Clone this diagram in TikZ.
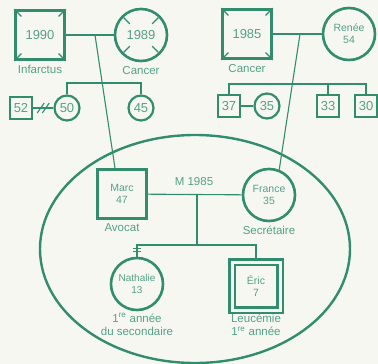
\documentclass[tikz,border=0pt]{standalone}
\usepackage{fontspec}
\setmainfont{Liberation Sans}
\usetikzlibrary{positioning, calc}

\definecolor{gline}{RGB}{50,140,110}
\definecolor{gtext}{RGB}{85,160,135}
\definecolor{paper}{RGB}{247,247,242}

\begin{document}
\begin{tikzpicture}[
    x=1pt, y=-1pt,
    node distance=2pt,
    male/.style={
        draw=gline,
        line width=2.6pt,
        rectangle,
        minimum size=49pt,
        inner sep=0pt,
        text=gtext,
        align=center,
        font=\fontsize{10.5}{12}\selectfont
    },
    female/.style={male, circle, minimum size=52pt},
    smale/.style={male, minimum size=22pt, line width=2.2pt, font=\fontsize{13}{13}\selectfont},
    sfemale/.style={smale, circle, minimum size=25pt},
    lbl/.style={text=gtext, inner sep=1pt, align=center, font=\fontsize{11.5}{13}\selectfont},
    link/.style={draw=gline, line width=1.1pt},
    tick/.style={draw=gline, line width=1.3pt}
]

\useasboundingbox (0,0) rectangle (378,364);
\fill[paper] (0,0) rectangle (378,364);

% grandparents
\node (pgf) [male, font=\fontsize{13}{13}\selectfont] at (40,35) {1990};
\node (pgm) [female, font=\fontsize{13}{13}\selectfont] at (141,35) {1989};
\node (mgf) [male, font=\fontsize{13}{13}\selectfont] at (247,34) {1985};
\node (mgm) [female] at (349,34) {Renée\\54};

\node [lbl, below=3pt of pgf] {Infarctus};
\node [lbl, below=3pt of pgm] {Cancer};
\node [lbl, below=3pt of mgf] {Cancer};

% deceased marks
\foreach \c in {pgf, mgf}
    \foreach \a in {north west, north east, south west, south east}
        \draw[tick] (\c.\a) -- ($(\c.\a)!0.28!(\c.center)$);
\foreach \a in {45, 135, 225, 315}
    \draw[tick] ($(pgm.center)!0.58!(pgm.\a)$) -- ($(pgm.center)!0.9!(pgm.\a)$);

% uncles and aunts
\node (s52) [smale] at (21,108) {52};
\node (c50) [sfemale] at (67,108) {50};
\node (c45) [sfemale] at (141,108) {45};
\node (s37) [smale] at (229,106) {37};
\node (c35) [sfemale] at (267,106) {35};
\node (s33) [smale] at (328,106) {33};
\node (s30) [smale] at (366,106) {30};

% family
\node (marc) [male] at (122,194) {Marc\\47};
\node (france) [female] at (269,195) {France\\35};
\node (nath) [female, font=\fontsize{10}{12}\selectfont] at (137,284) {Nathalie\\13};
\node (eric) [male, double=paper, double distance=3pt, line width=2.4pt, minimum size=48pt] at (256,286) {Éric\\7};

\node [lbl, below=3pt of marc] {Avocat};
\node [lbl, below=3pt of france] {Secrétaire};
\node [lbl, below=1pt of nath] {1\textsuperscript{re} année\\du secondaire};
\node [lbl, below=2pt of eric] {Leucémie\\1\textsuperscript{re} année};
\node (mdate) [lbl] at (194,182) {M 1985};

\coordinate (lmar) at (95,35);
\coordinate (rmar) at (300,34);
\coordinate (lsib) at (100,83);
\coordinate (rsib) at (300,84);
\coordinate (msib) at (197,245);

% links
\draw[link] (pgf) -- (pgm);
\draw[link] (mgf) -- (mgm);
\draw[link] (lmar) -- ([xshift=-7pt]marc.north);
\draw[link] (rmar) -- (france.68);

\draw[link] (c50.north) -- (c50.north |- lsib) -- (c45.north |- lsib) -- (c45.north);
\draw[link] (s52) -- (c50);
\draw[link] ($(s52.east)!0.4!(c50.west)$) +(-4,5) -- +(3,-5);
\draw[link] ($(s52.east)!0.65!(c50.west)$) +(-4,5) -- +(3,-5);

\draw[link] (s37.north) -- (s37.north |- rsib) -- (s30.north |- rsib) -- (s30.north);
\draw[link] (s33.north) -- (s33.north |- rsib);
\draw[link] (s37) -- (c35);

\draw[link] (marc) -- (france);
\draw[link] (msib |- marc) -- (msib);
\draw[link] (nath.north) |- (msib) -| (eric.north);
\draw[link] ($(nath.north)+(-4,-8)$) -- +(8,0);
\draw[link] ($(nath.north)+(-4,-5)$) -- +(8,0);

% household
\draw[gline, line width=2.4pt] (195,249) ellipse [x radius=155, y radius=114];

\end{tikzpicture}
\end{document}
